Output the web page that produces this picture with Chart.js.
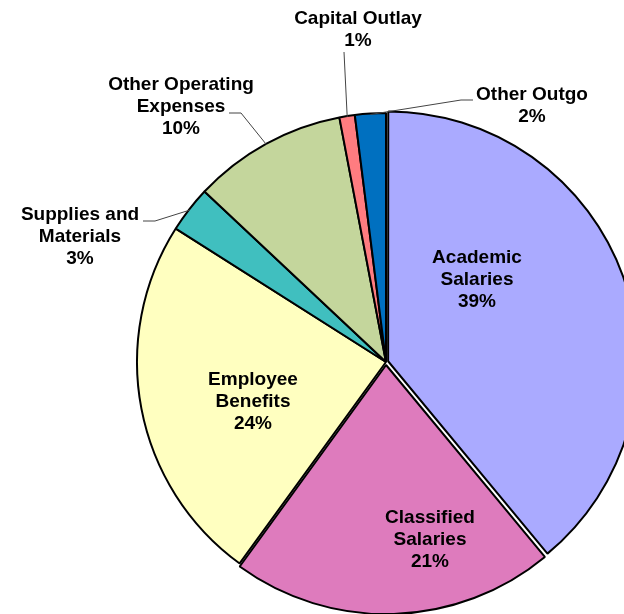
<!DOCTYPE html>
<html>
<head>
<meta charset="utf-8">
<title>Expenditures by Category</title>
<script src="https://cdn.jsdelivr.net/npm/chart.js@4.4.1/dist/chart.umd.min.js"></script>
<style>
  html, body { margin: 0; padding: 0; background: #fff; overflow: hidden; }
  #wrap { position: absolute; left: 0; top: 0; width: 772px; height: 724px; }
</style>
</head>
<body>
<div id="wrap"><canvas id="budgetPie" width="772" height="724"></canvas></div>
<script>
// slice names (one entry per text line) and their share of the budget
const categories = [
  ["Academic", "Salaries"],
  ["Classified", "Salaries"],
  ["Employee", "Benefits"],
  ["Supplies and", "Materials"],
  ["Other Operating", "Expenses"],
  ["Capital Outlay"],
  ["Other Outgo"]
];
const shares = [39, 21, 24, 3, 10, 1, 2];

const sliceColors = ["#aaaaff", "#de7bbd", "#ffffc0", "#40bfbf", "#c4d69c", "#ff7c80", "#0070c0"];
// chart.js moves an arc by roughly offset/4, so these give a ~3px pull-out
const pullOut = [9, 12, 0, 0, 0, 0, 0];

// label blocks, relative to the pie centre; outside labels get a leader (start, elbow)
const labelSpots = [
  { dx: 91, dy: -82 },
  { dx: 44, dy: 178 },
  { dx: -133, dy: 40 },
  { dx: -306, dy: -125, leader: [[-243, -141], [-231, -141]] },
  { dx: -205, dy: -255, leader: [[-157, -249], [-145, -249]] },
  { dx: -28, dy: -332, leader: [[-42, -310], [-42, -310]] },
  { dx: 146, dy: -256, leader: [[87, -262], [75, -262]] }
];

const LINE_H = 22;
const FONT = "bold 19px 'Liberation Sans', Arial, sans-serif";

const sliceLabels = {
  id: "sliceLabels",
  afterDatasetsDraw(chart) {
    const ctx = chart.ctx;
    const arcs = chart.getDatasetMeta(0).data;
    const total = shares.reduce((a, b) => a + b, 0);
    const cx = (chart.chartArea.left + chart.chartArea.right) / 2;
    const cy = (chart.chartArea.top + chart.chartArea.bottom) / 2;

    ctx.save();
    arcs.forEach((arc, i) => {
      const spot = labelSpots[i];
      const p = arc.getProps(["x", "y", "startAngle", "endAngle", "outerRadius"], true);

      if (spot.leader) {
        const mid = (p.startAngle + p.endAngle) / 2;
        const ex = p.x + Math.cos(mid) * (p.outerRadius - 1);
        const ey = p.y + Math.sin(mid) * (p.outerRadius - 1);
        const [a, b] = spot.leader;
        ctx.strokeStyle = "#444";
        ctx.lineWidth = 1;
        ctx.beginPath();
        ctx.moveTo(cx + a[0], cy + a[1]);
        ctx.lineTo(cx + b[0], cy + b[1]);
        ctx.lineTo(ex, ey);
        ctx.stroke();
      }

      const lines = categories[i].concat(Math.round(shares[i] / total * 100) + "%");
      ctx.font = FONT;
      ctx.fillStyle = "#000";
      ctx.textAlign = "center";
      ctx.textBaseline = "middle";
      const top = cy + spot.dy - (lines.length - 1) * LINE_H / 2;
      lines.forEach((t, k) => ctx.fillText(t, cx + spot.dx, top + k * LINE_H));
    });
    ctx.restore();
  }
};

new Chart(document.getElementById("budgetPie"), {
  type: "pie",
  data: {
    labels: categories.map(c => c.join(" ")),
    datasets: [{
      data: shares,
      backgroundColor: sliceColors,
      borderColor: "#000",
      borderWidth: 2,
      offset: pullOut
    }]
  },
  options: {
    responsive: false,
    animation: false,
    radius: 249,
    layout: { padding: 0 },
    plugins: {
      legend: { display: false },
      tooltip: { enabled: false }
    }
  },
  plugins: [sliceLabels]
});
</script>
</body>
</html>
